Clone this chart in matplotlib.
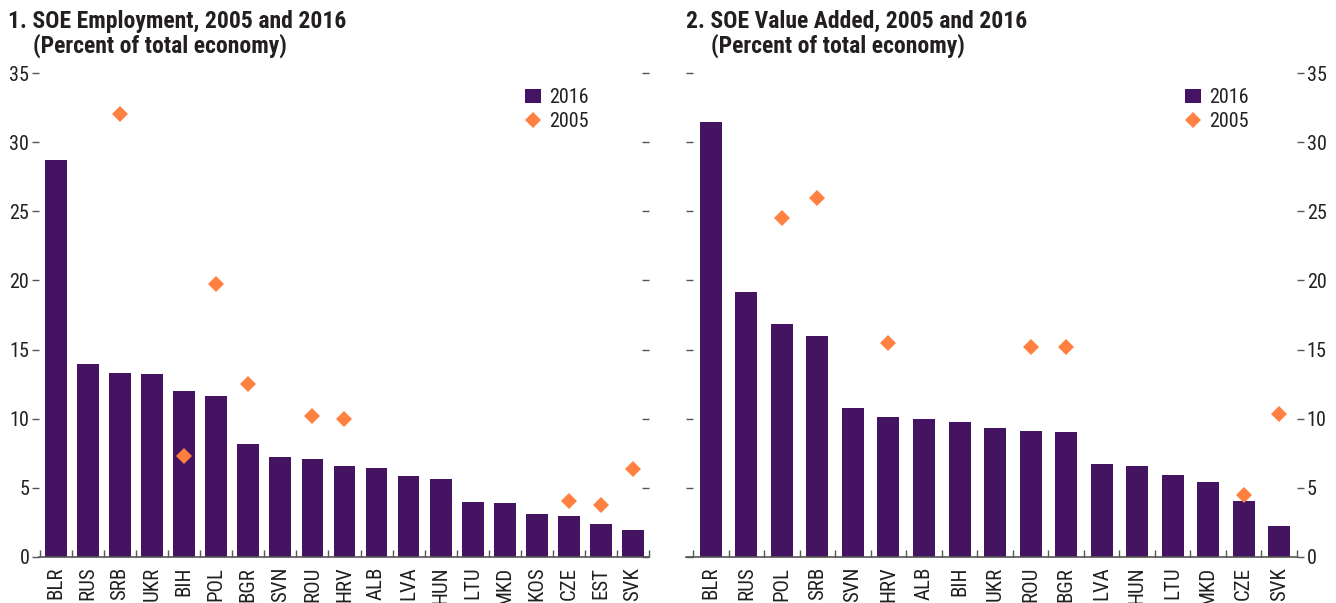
import numpy as np
import matplotlib
matplotlib.use('Agg')
import matplotlib.pyplot as plt
from matplotlib.lines import Line2D
from matplotlib.patches import Patch

plt.rcParams['font.family'] = ['Roboto Condensed', 'Archivo Narrow', 'DejaVu Sans']

### Data

emp_countries = ['BLR', 'RUS', 'SRB', 'UKR', 'BIH', 'POL', 'BGR', 'SVN', 'ROU', 'HRV',
                 'ALB', 'LVA', 'HUN', 'LTU', 'MKD', 'KOS', 'CZE', 'EST', 'SVK']
emp_2016 = [28.7, 13.95, 13.3, 13.2, 12.0, 11.65, 8.2, 7.2, 7.1, 6.6,
            6.45, 5.85, 5.65, 4.0, 3.9, 3.1, 3.0, 2.4, 1.95]
emp_2005 = [np.nan, np.nan, 32.0, np.nan, 7.3, 19.75, 12.5, np.nan, 10.2, 10.0,
            np.nan, np.nan, np.nan, np.nan, np.nan, np.nan, 4.07, 3.76, 6.36]

va_countries = ['BLR', 'RUS', 'POL', 'SRB', 'SVN', 'HRV', 'ALB', 'BIH', 'UKR', 'ROU',
                'BGR', 'LVA', 'HUN', 'LTU', 'MKD', 'CZE', 'SVK']
va_2016 = [31.45, 19.15, 16.85, 16.0, 10.77, 10.1, 10.0, 9.76, 9.33, 9.1,
           9.04, 6.7, 6.6, 5.93, 5.42, 4.05, 2.24]
va_2005 = [np.nan, np.nan, 24.5, 25.95, np.nan, 15.47, np.nan, np.nan, np.nan, 15.2,
           15.2, np.nan, np.nan, np.nan, np.nan, 4.48, 10.34]

purple = '#441362'
orange = '#FF8040'
txt = '#231F20'

W, H = 1336, 603
fig = plt.figure(figsize=(W / 100, H / 100), dpi=100)
ax1 = fig.add_axes([39 / W, 1 - 557 / H, (649 - 39) / W, 484 / H])
ax2 = fig.add_axes([686 / W, 1 - 557 / H, (1297 - 686) / W, 484 / H])


def draw(ax, countries, v16, v05, width, labels_right, xlim):
    x = np.arange(len(countries))
    ax.bar(x, v16, width=width, color=purple, zorder=2)
    ax.plot(x, v05, linestyle='none', marker='D', markersize=8.3,
            color=orange, markeredgewidth=0, zorder=3)
    ax.set_ylim(0, 35)
    ax.set_xlim(*xlim)
    ax.set_yticks(np.arange(0, 36, 5))
    for s in ['top', 'left', 'right']:
        ax.spines[s].set_visible(False)
    ax.spines['bottom'].set_color('#555555')
    ax.spines['bottom'].set_linewidth(1.2)
    ax.set_xticks(x)
    ax.set_xticklabels(countries, rotation=90, fontsize=15, color=txt)
    ax.set_xticks(np.arange(len(countries) + 1) - 0.5, minor=True)
    ax.tick_params(axis='x', which='major', length=0, pad=7)
    ax.tick_params(axis='x', which='minor', direction='in', length=5,
                   width=1, color='#555555')
    ax.tick_params(axis='y', labelsize=14.5, labelcolor=txt, length=5,
                   width=1, color='#555555', pad=2,
                   left=True, right=True,
                   labelleft=not labels_right, labelright=labels_right)
    handles = [Patch(facecolor=purple, edgecolor='none', label='2016'),
               Line2D([], [], linestyle='none', marker='D', markersize=8.3,
                      color=orange, markeredgewidth=0, label='2005')]
    return handles


h = draw(ax1, emp_countries, emp_2016, emp_2005, 0.68, False, (-0.53, 18.5))
for t in ax1.yaxis.get_majorticklines()[1::2]:
    t.set_marker(0)  # right ticks point inward
ax1.legend(handles=h, loc='upper left', bbox_to_anchor=(0.78, 0.99),
           frameon=False, fontsize=14.5, handlelength=0.8, handleheight=0.7,
           handletextpad=0.4, labelspacing=0.25, borderpad=0, labelcolor=txt)

h = draw(ax2, va_countries, va_2016, va_2005, 0.62, True, (-0.7, 16.5))
for t in ax2.yaxis.get_majorticklines()[0::2]:
    t.set_marker(1)
ax2.legend(handles=h, loc='upper left', bbox_to_anchor=(0.80, 0.99),
           frameon=False, fontsize=14.5, handlelength=0.8, handleheight=0.7,
           handletextpad=0.4, labelspacing=0.25, borderpad=0, labelcolor=txt)

title_kw = dict(fontsize=17, fontweight='bold', color=txt, va='baseline', ha='left')
fig.text(8 / W, 1 - 28 / H, '1. SOE Employment, 2005 and 2016', **title_kw)
fig.text(33 / W, 1 - 53 / H, '(Percent of total economy)', **title_kw)
fig.text(686 / W, 1 - 28 / H, '2. SOE Value Added, 2005 and 2016', **title_kw)
fig.text(711 / W, 1 - 53 / H, '(Percent of total economy)', **title_kw)

fig.savefig('out.png', dpi=100)
